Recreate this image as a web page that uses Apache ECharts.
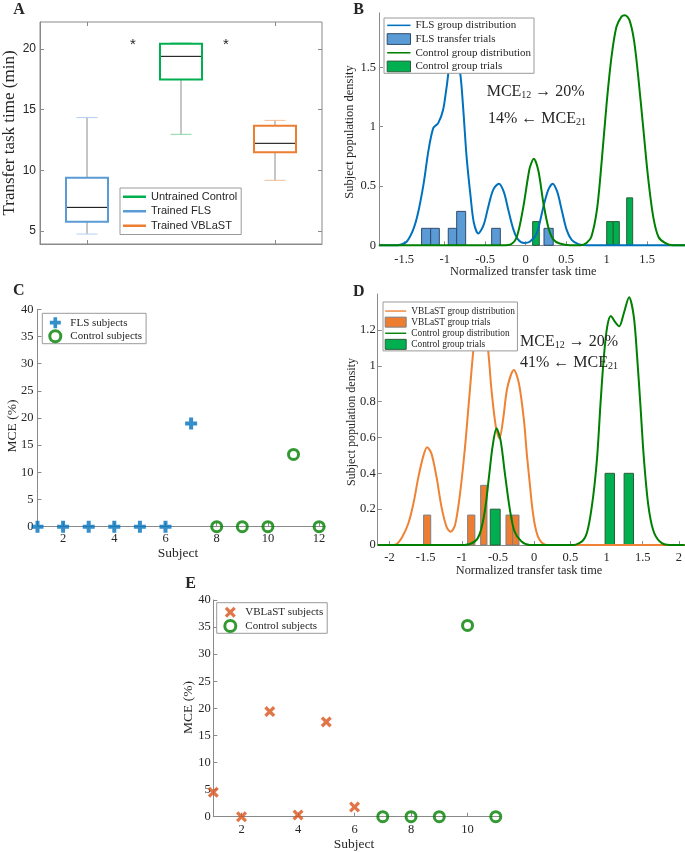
<!DOCTYPE html>
<html>
<head>
<meta charset="utf-8">
<script src="https://cdn.jsdelivr.net/npm/echarts@6/dist/echarts.min.js"></script>
<style>html,body{margin:0;padding:0;background:#fff}#c{width:685px;height:852px}</style>
</head>
<body>
<div id="c"></div>
<script>
// ---------------- DATA ----------------
// Panel A (boxplots), order on x axis
const groupsA = ['Trained FLS', 'Untrained Control', 'Trained VBLaST'];
const whiskerLowA = [4.75, 12.97, 9.18];
const q1A = [5.77, 17.5, 11.5];
const medianA = [6.95, 19.4, 12.23];
const q3A = [9.4, 20.44, 13.68];
const whiskerHighA = [14.35, 20.5, 14.12];
const ticksAy = [5, 10, 15, 20];

// Panel B: density curves [x, density] and trial bars [left, right, height]
const flsCurveB = [[-1.811,0],[-1.62,0],[-1.55,0.005],[-1.47,0.03],[-1.39,0.13],[-1.33,0.27],[-1.26,0.52],[-1.20,0.80],[-1.14,0.99],[-1.08,1.03],[-1.02,1.14],[-0.975,1.34],[-0.935,1.53],[-0.87,1.63],[-0.81,1.46],[-0.77,1.14],[-0.73,0.75],[-0.68,0.41],[-0.64,0.19],[-0.585,0.10],[-0.52,0.17],[-0.46,0.33],[-0.40,0.47],[-0.33,0.52],[-0.27,0.45],[-0.215,0.30],[-0.15,0.13],[-0.09,0.045],[-0.02,0.02],[0.05,0.03],[0.136,0.10],[0.22,0.33],[0.28,0.47],[0.333,0.52],[0.39,0.45],[0.444,0.30],[0.506,0.13],[0.568,0.045],[0.65,0.01],[0.75,0],[1.967,0]];
const ctrlCurveB = [[-1.811,0],[-0.25,0],[-0.19,0.005],[-0.11,0.07],[-0.03,0.32],[0.03,0.58],[0.053,0.66],[0.10,0.73],[0.156,0.63],[0.22,0.35],[0.28,0.15],[0.34,0.05],[0.42,0.015],[0.55,0],[0.68,0],[0.75,0.02],[0.81,0.07],[0.88,0.30],[0.94,0.72],[1.0,1.20],[1.06,1.59],[1.12,1.84],[1.185,1.93],[1.225,1.94],[1.28,1.90],[1.337,1.73],[1.39,1.42],[1.45,1.0],[1.51,0.58],[1.575,0.24],[1.64,0.07],[1.72,0.02],[1.82,0],[1.967,0]];
const flsBarsB = [[-1.285,-1.173,0.143],[-1.173,-1.066,0.143],[-0.956,-0.852,0.143],[-0.852,-0.741,0.286],[-0.42,-0.313,0.143],[0.226,0.34,0.143]];
const ctrlBarsB = [[0.086,0.168,0.2],[1.0,1.081,0.2],[1.081,1.156,0.2],[1.247,1.321,0.4]];
const ticksBx = [-1.5, -1, -0.5, 0, 0.5, 1, 1.5];
const ticksBy = [0, 0.5, 1, 1.5];

// Panel C: MCE per subject
const subjectsCfls = [1, 2, 3, 4, 5, 6, 7];
const mceCfls = [0, 0, 0, 0, 0, 0, 19];
const subjectsCctrl = [8, 9, 10, 11, 12];
const mceCctrl = [0, 0, 0, 13.3, 0];
const ticksCx = [2, 4, 6, 8, 10, 12];
const ticksMCE = [0, 5, 10, 15, 20, 25, 30, 35, 40];

// Panel D
const vblCurveD = [[-2.163,0],[-1.95,0],[-1.90,0.005],[-1.83,0.04],[-1.74,0.12],[-1.67,0.23],[-1.60,0.38],[-1.53,0.50],[-1.48,0.545],[-1.42,0.51],[-1.35,0.38],[-1.28,0.21],[-1.21,0.10],[-1.155,0.074],[-1.095,0.11],[-1.03,0.27],[-0.96,0.53],[-0.90,0.81],[-0.84,1.09],[-0.79,1.25],[-0.74,1.31],[-0.69,1.25],[-0.635,1.08],[-0.59,0.865],[-0.53,0.66],[-0.48,0.595],[-0.43,0.70],[-0.37,0.88],[-0.28,0.977],[-0.21,0.90],[-0.14,0.69],[-0.10,0.50],[-0.06,0.34],[-0.03,0.22],[0.01,0.11],[0.05,0.05],[0.10,0.015],[0.17,0],[2.08,0]];
const ctrlCurveD = [[-2.163,0],[-0.96,0],[-0.82,0.02],[-0.75,0.065],[-0.68,0.195],[-0.625,0.38],[-0.575,0.55],[-0.52,0.65],[-0.465,0.585],[-0.405,0.40],[-0.335,0.195],[-0.27,0.074],[-0.175,0.02],[-0.06,0],[0.54,0],[0.68,0.028],[0.745,0.093],[0.815,0.27],[0.87,0.49],[0.917,0.79],[0.963,1.05],[1.01,1.22],[1.06,1.278],[1.115,1.246],[1.174,1.22],[1.239,1.293],[1.312,1.382],[1.377,1.274],[1.423,1.05],[1.47,0.77],[1.515,0.49],[1.575,0.23],[1.644,0.084],[1.736,0.02],[1.874,0],[2.08,0]];
const vblBarsD = [[-1.529,-1.43,0.167],[-0.92,-0.82,0.167],[-0.74,-0.653,0.333],[-0.39,-0.30,0.167],[-0.30,-0.21,0.167]];
const ctrlBarsD = [[-0.607,-0.47,0.2],[0.98,1.11,0.4],[1.243,1.373,0.4]];
const ticksDx = [-2, -1.5, -1, -0.5, 0, 0.5, 1, 1.5, 2];
const ticksDy = [0, 0.2, 0.4, 0.6, 0.8, 1, 1.2];

// Panel E
const subjectsEvbl = [1, 2, 3, 4, 5, 6];
const mceEvbl = [4.5, 0, 19.4, 0.3, 17.5, 1.8];
const subjectsEctrl = [7, 8, 9, 10, 11];
const mceEctrl = [0, 0, 0, 35.3, 0];
const ticksEx = [2, 4, 6, 8, 10];

// ---------------- STYLE ----------------
const AX = '#8a8a8a', TXT = '#262626', LEG = '#9a9a9a', WHISK = '#8c8c8c';
const SERIF = '"Liberation Serif", "Times New Roman", serif';
const SANS = '"Liberation Sans", Arial, sans-serif';
const C_BLUE = '#0072BD', C_GREEN = '#008000', C_ORANGE = '#EE8235', C_RED = '#D95319';
const PLUS = 'path://M4,0H8V4H12V8H8V12H4V8H0V4H4Z';
const CROSS = 'path://M2.5,0L6,3.5L9.5,0L12,2.5L8.5,6L12,9.5L9.5,12L6,8.5L2.5,12L0,9.5L3.5,6L0,2.5Z';
const LINEICON = 'path://M0,0H24V1.6H0Z';

function vAxis(grid, min, max, ticks, o) {
  o = o || {};
  const lab = {show: o.label !== false, customValues: ticks, fontFamily: o.font || SERIF,
    fontSize: o.fs || 12.5, color: TXT, margin: (o.margin != null ? o.margin : 4)};
  const ax = {
    type: 'value', gridIndex: grid, min: min, max: max,
    axisLine: {show: o.line !== false, onZero: false, lineStyle: {color: AX, width: 1}},
    axisTick: {show: true, inside: true, length: 4, customValues: ticks, lineStyle: {color: AX}},
    axisLabel: lab,
    splitLine: {show: false}
  };
  if (o.position) ax.position = o.position;
  return ax;
}

function boxSeries(i, color, capColor) {
  return {
    type: 'custom', name: groupsA[i], xAxisIndex: 0, yAxisIndex: 0, z: 3, clip: false,
    itemStyle: {color: color},
    data: [[i, whiskerLowA[i], q1A[i], medianA[i], q3A[i], whiskerHighA[i]]],
    renderItem: function (params, api) {
      const c = api.value(0);
      const pl = api.coord([c, api.value(1)]);
      const p1 = api.coord([c, api.value(2)]);
      const pm = api.coord([c, api.value(3)]);
      const p3 = api.coord([c, api.value(4)]);
      const ph = api.coord([c, api.value(5)]);
      const x = pl[0], bw = 42, cw = 21;
      return {type: 'group', children: [
        {type: 'line', shape: {x1: x, y1: p3[1], x2: x, y2: ph[1]}, style: {stroke: WHISK, lineWidth: 1}},
        {type: 'line', shape: {x1: x, y1: p1[1], x2: x, y2: pl[1]}, style: {stroke: WHISK, lineWidth: 1}},
        {type: 'line', shape: {x1: x - cw / 2, y1: ph[1], x2: x + cw / 2, y2: ph[1]}, style: {stroke: capColor, lineWidth: 1}},
        {type: 'line', shape: {x1: x - cw / 2, y1: pl[1], x2: x + cw / 2, y2: pl[1]}, style: {stroke: capColor, lineWidth: 1}},
        {type: 'rect', shape: {x: x - bw / 2, y: p3[1], width: bw, height: p1[1] - p3[1]}, style: {fill: 'none', stroke: color, lineWidth: 2}},
        {type: 'line', shape: {x1: x - bw / 2 + 1, y1: pm[1], x2: x + bw / 2 - 1, y2: pm[1]}, style: {stroke: '#000', lineWidth: 1}}
      ]};
    }
  };
}

function barSeries(name, data, ax, fill, stroke) {
  return {
    type: 'custom', name: name, xAxisIndex: ax, yAxisIndex: ax, z: 2, clip: false,
    itemStyle: {color: fill, borderColor: stroke, borderWidth: 1},
    data: data,
    renderItem: function (params, api) {
      const a = api.coord([api.value(0), 0]);
      const b = api.coord([api.value(1), api.value(2)]);
      return {type: 'rect', shape: {x: a[0], y: b[1], width: b[0] - a[0], height: a[1] - b[1]},
        style: {fill: fill, stroke: stroke, lineWidth: 1}};
    }
  };
}

function curve(name, data, ax, color) {
  return {type: 'line', name: name, xAxisIndex: ax, yAxisIndex: ax, data: data, smooth: 0.3,
    symbol: 'none', showSymbol: false, lineStyle: {color: color, width: 2}, itemStyle: {color: color},
    z: 3, clip: false};
}

function pts(xs, ys) { return xs.map(function (s, i) { return [s, ys[i]]; }); }

function txt(s, x, y, font, rot) {
  const e = {type: 'text', x: x, y: y, z: 100,
    style: {text: s, font: font, fill: TXT, align: 'center', verticalAlign: 'middle',
      textAlign: 'center', textVerticalAlign: 'middle'}};
  if (rot) e.rotation = Math.PI / 2;
  return e;
}
function panel(s, x, y) { return txt(s, x, y, 'bold 16px ' + SERIF); }

const RICH = {
  m: {fontFamily: SERIF, fontSize: 16, lineHeight: 18, fill: TXT, color: TXT},
  s: {fontFamily: SERIF, fontSize: 10, lineHeight: 8, verticalAlign: 'bottom', fill: TXT, color: TXT}
};
function mce(s, x, y) {
  return {type: 'text', x: x, y: y, z: 100,
    style: {text: s, rich: RICH, fill: TXT, font: '16px ' + SERIF, align: 'left', verticalAlign: 'middle',
      textAlign: 'left', textVerticalAlign: 'middle'}};
}

function legendBase(o) {
  return Object.assign({orient: 'vertical', itemGap: 0, borderColor: LEG, borderWidth: 1,
    backgroundColor: '#fff', selectedMode: false, z: 10, itemStyle: {borderWidth: 0}}, o);
}

const option = {
  animation: false,
  backgroundColor: '#fff',
  grid: [
    {left: 40, top: 22, width: 282, height: 222, show: true, borderColor: AX, borderWidth: 1},
    {left: 379, top: 12.84, width: 306, height: 232.46},
    {left: 37.5, top: 309.3, width: 287.5, height: 217.4},
    {left: 377.7, top: 294.1, width: 307.3, height: 250.9},
    {left: 213.3, top: 600, width: 286.7, height: 216.7}
  ],
  xAxis: [
    {type: 'category', gridIndex: 0, data: groupsA, boundaryGap: true,
      axisLine: {show: true, lineStyle: {color: AX}},
      axisTick: {show: true, inside: true, alignWithLabel: true, length: 4, lineStyle: {color: AX}},
      axisLabel: {show: false}, splitLine: {show: false}},
    {type: 'category', gridIndex: 0, data: groupsA, boundaryGap: true, position: 'top',
      axisLine: {show: false},
      axisTick: {show: true, inside: true, alignWithLabel: true, length: 4, lineStyle: {color: AX}},
      axisLabel: {show: false}, splitLine: {show: false}},
    vAxis(1, -1.811, 1.967, ticksBx, {margin: 7.5}),
    vAxis(2, 1, 12.23, ticksCx, {margin: 6}),
    vAxis(3, -2.163, 2.08, ticksDx, {margin: 6.3}),
    vAxis(4, 1, 11.15, ticksEx, {margin: 6.5})
  ],
  yAxis: [
    vAxis(0, 3.93, 22.23, ticksAy, {font: SANS, fs: 12, margin: 4}),
    vAxis(0, 3.93, 22.23, ticksAy, {label: false, line: false, position: 'right'}),
    vAxis(1, 0, 1.96, ticksBy, {margin: 3}),
    vAxis(2, 0, 40, ticksMCE, {margin: 4}),
    vAxis(3, 0, 1.4, ticksDy, {margin: 2}),
    vAxis(4, 0, 40, ticksMCE, {margin: 2.5})
  ],
  legend: [
    legendBase({left: 120, top: 188, padding: [1.5, 4, 1.5, 3], itemWidth: 23, itemHeight: 2.5, icon: 'rect',
      data: ['Untrained Control', 'Trained FLS', 'Trained VBLaST'],
      textStyle: {fontFamily: SANS, fontSize: 11, lineHeight: 14.5, color: TXT}}),
    legendBase({left: 384, top: 18, padding: [0.5, 3, 0, 2.7], itemWidth: 23.3, itemHeight: 10.7,
      data: [{name: 'FLS group distribution', icon: LINEICON},
        {name: 'FLS transfer trials', icon: 'rect', itemStyle: {borderWidth: 1}},
        {name: 'Control group distribution', icon: LINEICON},
        {name: 'Control group trials', icon: 'rect', itemStyle: {borderWidth: 1}}],
      textStyle: {fontFamily: SERIF, fontSize: 11, lineHeight: 13.7, color: TXT}}),
    legendBase({left: 42.3, top: 313.3, padding: [2.9, 4, 0.5, 6], itemWidth: 20, itemHeight: 11,
      data: [{name: 'FLS subjects'}, {name: 'Control subjects', itemStyle: {borderWidth: 3}}],
      textStyle: {fontFamily: SERIF, fontSize: 11, lineHeight: 13, color: TXT}}),
    legendBase({left: 383, top: 302, padding: [3.5, 2.6, 1, 1.7], itemWidth: 21, itemHeight: 10,
      data: [{name: 'VBLaST group distribution', icon: LINEICON},
        {name: 'VBLaST group trials', icon: 'rect', itemStyle: {borderWidth: 1}},
        {name: 'Control group distribution', icon: LINEICON},
        {name: 'Control group trials', icon: 'rect', itemStyle: {borderWidth: 1}}],
      textStyle: {fontFamily: SERIF, fontSize: 9.4, lineHeight: 11.1, color: TXT}}),
    legendBase({left: 216.7, top: 602.7, padding: [2.9, 4, 0.3, 6.6], itemWidth: 20, itemHeight: 11,
      data: [{name: 'VBLaST subjects'}, {name: 'Control subjects', itemStyle: {borderWidth: 3}}],
      textStyle: {fontFamily: SERIF, fontSize: 11, lineHeight: 13.4, color: TXT}})
  ],
  series: [
    boxSeries(1, '#00B050', '#86d9a9'),
    boxSeries(0, '#5B9BD5', '#b3d0ee'),
    boxSeries(2, '#ED7D31', '#f6bc93'),

    barSeries('FLS transfer trials', flsBarsB, 2, '#5B9BD5', '#2f4b6e'),
    barSeries('Control group trials', ctrlBarsB, 2, '#00B050', '#2a5e38'),
    curve('FLS group distribution', flsCurveB, 2, C_BLUE),
    curve('Control group distribution', ctrlCurveB, 2, C_GREEN),

    {type: 'scatter', name: 'FLS subjects', xAxisIndex: 3, yAxisIndex: 3, data: pts(subjectsCfls, mceCfls),
      symbol: PLUS, symbolSize: 12, itemStyle: {color: C_BLUE}, z: 3, clip: false},
    {type: 'scatter', name: 'Control subjects', xAxisIndex: 3, yAxisIndex: 3, data: pts(subjectsCctrl, mceCctrl),
      symbol: 'circle', symbolSize: 10, itemStyle: {color: 'rgba(0,0,0,0)', borderColor: C_GREEN, borderWidth: 3}, z: 3, clip: false},

    barSeries('VBLaST group trials', vblBarsD, 4, '#ED7D31', '#808080'),
    barSeries('Control group trials', ctrlBarsD, 4, '#00B050', '#2a5e38'),
    curve('VBLaST group distribution', vblCurveD, 4, C_ORANGE),
    curve('Control group distribution', ctrlCurveD, 4, C_GREEN),

    {type: 'scatter', name: 'VBLaST subjects', xAxisIndex: 5, yAxisIndex: 5, data: pts(subjectsEvbl, mceEvbl),
      symbol: CROSS, symbolSize: 11, itemStyle: {color: C_RED}, z: 3, clip: false},
    {type: 'scatter', name: 'Control subjects', xAxisIndex: 5, yAxisIndex: 5, data: pts(subjectsEctrl, mceEctrl),
      symbol: 'circle', symbolSize: 10, itemStyle: {color: 'rgba(0,0,0,0)', borderColor: C_GREEN, borderWidth: 3}, z: 3, clip: false}
  ],
  graphic: [
    panel('A', 19, 10), panel('B', 358.7, 10), panel('C', 18.7, 291), panel('D', 358.7, 292), panel('E', 190.5, 584),
    txt('Transfer task time (min)', 9.7, 133, '17px ' + SERIF, true),
    txt('*', 133, 45, '15px ' + SANS), txt('*', 226, 45, '15px ' + SANS),
    txt('Normalized transfer task time', 523.3, 271.5, '12.3px ' + SERIF),
    txt('Subject population density', 350, 132, '12.5px ' + SERIF, true),
    txt('Subject', 178, 553.5, '13.5px ' + SERIF),
    txt('MCE (%)', 12, 426, '13.5px ' + SERIF, true),
    txt('Normalized transfer task time', 529, 570.8, '12.3px ' + SERIF),
    txt('Subject population density', 351.7, 422, '12px ' + SERIF, true),
    txt('Subject', 354, 844, '13.5px ' + SERIF),
    txt('MCE (%)', 188, 707.5, '13.5px ' + SERIF, true),
    mce('{m|MCE}{s|12}{m| \u2192 20%}', 486.7, 91.3),
    mce('{m|14% \u2190 MCE}{s|21}', 488, 118.7),
    mce('{m|MCE}{s|12}{m| \u2192 20%}', 520, 341.3),
    mce('{m|41% \u2190 MCE}{s|21}', 520, 362.3)
  ]
};

const chart = echarts.init(document.getElementById('c'), null, {renderer: 'canvas'});
chart.setOption(option);
</script>
</body>
</html>
